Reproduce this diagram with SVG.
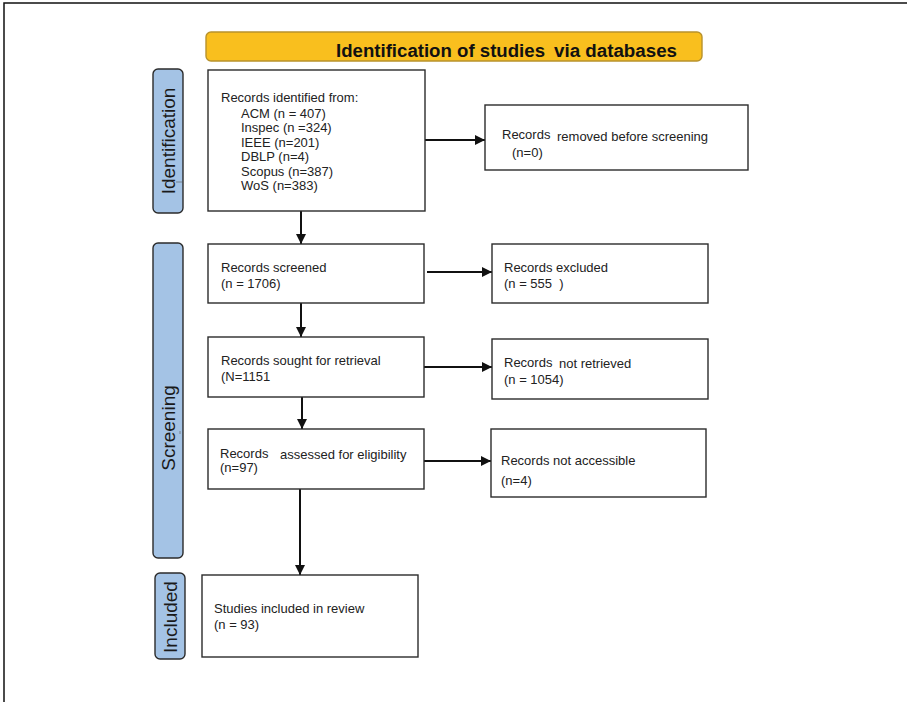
<svg xmlns="http://www.w3.org/2000/svg" width="907" height="702" viewBox="0 0 907 702">
  <style>
    .box { fill: #ffffff; stroke: #2b2b2b; stroke-width: 1.4; }
    .phase { fill: #a4c3e5; stroke: #2b2b2b; stroke-width: 1.4; }
    .t { font-family: "Liberation Sans", Arial, sans-serif; font-size: 13px; fill: #222; white-space: pre; }
    .ph { font-family: "Liberation Sans", Arial, sans-serif; font-size: 19px; fill: #1a1a1a; }
    .conn line { stroke: #111; stroke-width: 2; }
  </style>
  <defs>
    <marker id="arrow" viewBox="0 0 10 10" refX="10" refY="5" markerWidth="5" markerHeight="5" orient="auto" markerUnits="strokeWidth">
      <path d="M0,0 L10,5 L0,10 z" fill="#111"/>
    </marker>
  </defs>

  <rect width="907" height="702" fill="#ffffff"/>
  <!-- page frame -->
  <path d="M4,702 V3 H907" fill="none" stroke="#111" stroke-width="1.5"/>

  <!-- header banner -->
  <g id="header">
    <rect x="206" y="32" width="496" height="29" rx="5" fill="#f9bf1e" stroke="#b8922c" stroke-width="1.4"/>
    <text x="336" y="57" font-family="'Liberation Sans', Arial, sans-serif" font-size="18" font-weight="bold" fill="#111" textLength="209" lengthAdjust="spacingAndGlyphs">Identification of studies</text>
    <text x="554" y="57" font-family="'Liberation Sans', Arial, sans-serif" font-size="18" font-weight="bold" fill="#111" textLength="123" lengthAdjust="spacingAndGlyphs">via databases</text>
  </g>

  <!-- phase labels -->
  <g id="phase-identification">
    <rect class="phase" x="153" y="69" width="30" height="144" rx="5"/>
    <text class="ph" transform="translate(175,141) rotate(-90)" text-anchor="middle">Identification</text>
    <line x1="176" y1="182" x2="183" y2="182" stroke="#555" stroke-width="0.6"/>
  </g>
  <g id="phase-screening">
    <rect class="phase" x="153" y="243" width="30" height="315" rx="5"/>
    <text class="ph" transform="translate(175,428) rotate(-90)" text-anchor="middle">Screening</text>
    <line x1="180" y1="431" x2="180" y2="434" stroke="#555" stroke-width="0.6"/>
  </g>
  <g id="phase-included">
    <rect class="phase" x="155" y="573" width="30" height="86" rx="5"/>
    <text class="ph" transform="translate(177,617) rotate(-90)" text-anchor="middle">Included</text>
  </g>

  <!-- connectors -->
  <g id="connectors" class="conn">
    <line x1="301" y1="211" x2="301" y2="244" marker-end="url(#arrow)"/>
    <line x1="425" y1="140" x2="485" y2="140" marker-end="url(#arrow)"/>
    <line x1="427" y1="272" x2="492" y2="272" marker-end="url(#arrow)"/>
    <line x1="301" y1="303" x2="301" y2="337" marker-end="url(#arrow)"/>
    <line x1="423" y1="367" x2="492" y2="367" marker-end="url(#arrow)"/>
    <line x1="302" y1="397" x2="302" y2="429" marker-end="url(#arrow)"/>
    <line x1="424" y1="461" x2="491" y2="461" marker-end="url(#arrow)"/>
    <line x1="300" y1="489" x2="300" y2="575" marker-end="url(#arrow)"/>
  </g>

  <!-- nodes -->
  <g id="records-identified">
    <rect class="box" x="208" y="70" width="217" height="141"/>
    <text class="t" x="221" y="102">Records identified from:</text>
    <text class="t" x="241" y="118">ACM (n = 407)</text>
    <text class="t" x="241" y="132">Inspec (n =324)</text>
    <text class="t" x="241" y="147">IEEE (n=201)</text>
    <text class="t" x="241" y="161">DBLP (n=4)</text>
    <text class="t" x="241" y="176">Scopus (n=387)</text>
    <text class="t" x="241" y="190">WoS (n=383)</text>
  </g>
  <g id="records-removed">
    <rect class="box" x="485" y="105" width="263" height="65"/>
    <text class="t" x="502" y="139">Records</text>
    <text class="t" x="557" y="141">removed before screening</text>
    <text class="t" x="512" y="157">(n=0)</text>
  </g>
  <g id="records-screened">
    <rect class="box" x="208" y="244" width="216" height="59"/>
    <text class="t" x="221" y="272">Records screened</text>
    <text class="t" x="221" y="288">(n = 1706)</text>
  </g>
  <g id="records-excluded">
    <rect class="box" x="492" y="244" width="216" height="59"/>
    <text class="t" x="504" y="272">Records excluded</text>
    <text class="t" x="504" y="288" xml:space="preserve">(n = 555  )</text>
  </g>
  <g id="records-sought">
    <rect class="box" x="208" y="337" width="216" height="60"/>
    <text class="t" x="221" y="365">Records sought for retrieval</text>
    <text class="t" x="221" y="381">(N=1151</text>
  </g>
  <g id="records-not-retrieved">
    <rect class="box" x="492" y="339" width="216" height="60"/>
    <text class="t" x="504" y="367">Records</text>
    <text class="t" x="559" y="368">not retrieved</text>
    <text class="t" x="504" y="384">(n = 1054)</text>
  </g>
  <g id="records-assessed">
    <rect class="box" x="208" y="429" width="216" height="60"/>
    <text class="t" x="220" y="458">Records</text>
    <text class="t" x="280" y="459">assessed for eligibility</text>
    <text class="t" x="220" y="472">(n=97)</text>
  </g>
  <g id="records-not-accessible">
    <rect class="box" x="491" y="429" width="215" height="68"/>
    <text class="t" x="501" y="465">Records not accessible</text>
    <text class="t" x="501" y="485">(n=4)</text>
  </g>
  <g id="studies-included">
    <rect class="box" x="202" y="575" width="216" height="82"/>
    <text class="t" x="214" y="613">Studies included in review</text>
    <text class="t" x="214" y="629">(n = 93)</text>
  </g>
</svg>
